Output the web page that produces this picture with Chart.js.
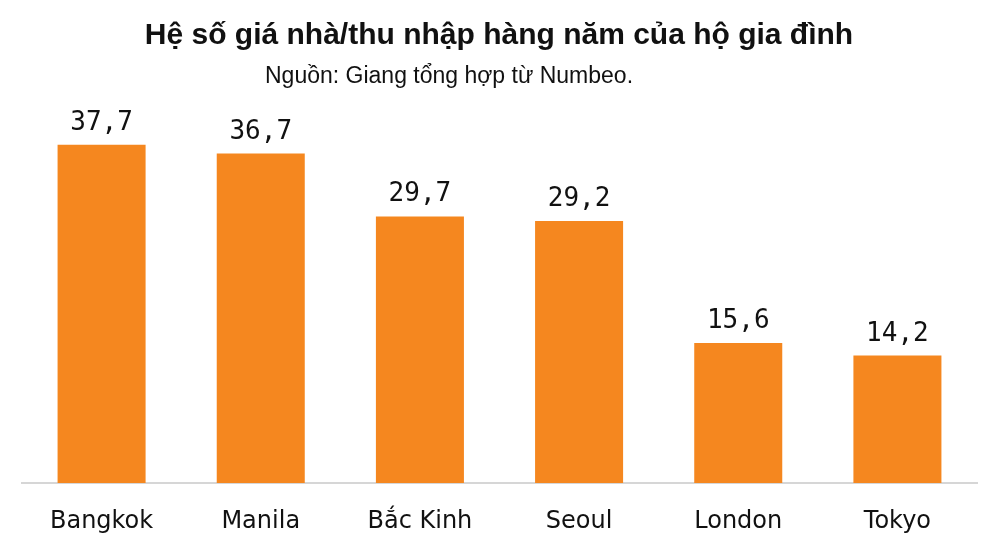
<!DOCTYPE html>
<html>
<head>
<meta charset="utf-8">
<script src="https://cdn.jsdelivr.net/npm/chart.js@4"></script>
<style>
  html, body { margin: 0; padding: 0; background: #fff; }
  #wrap { width: 1000px; height: 551px; }
</style>
</head>
<body>
<div id="wrap"><canvas id="chart"></canvas></div>
<script>
const cities = ['Bangkok', 'Manila', 'Bắc Kinh', 'Seoul', 'London', 'Tokyo'];
const ratios = [37.7, 36.7, 29.7, 29.2, 15.6, 14.2];
const titleText = 'Hệ số giá nhà/thu nhập hàng năm của hộ gia đình';
const sourceText = 'Nguồn: Giang tổng hợp từ Numbeo.';

const BAR = '#F5871F';

// title + source line at the top
const headerPlugin = {
  id: 'header',
  afterDraw(chart) {
    const ctx = chart.ctx;
    ctx.save();
    ctx.fillStyle = '#111';
    ctx.textBaseline = 'middle';
    ctx.textAlign = 'center';
    ctx.font = 'bold 30px "Liberation Sans Narrow", "Liberation Sans", sans-serif';
    ctx.fillText(titleText, 499, 36);
    ctx.textAlign = 'left';
    ctx.font = '23px "Liberation Sans Narrow", "Liberation Sans", sans-serif';
    ctx.fillText(sourceText, 265, 77);
    ctx.restore();
  }
};

// value above each bar
const valueLabels = {
  id: 'valueLabels',
  afterDatasetsDraw(chart) {
    const ctx = chart.ctx;
    const meta = chart.getDatasetMeta(0);
    ctx.save();
    ctx.fillStyle = '#111';
    ctx.font = '26px "DejaVu Sans Mono", monospace';
    ctx.textAlign = 'center';
    ctx.textBaseline = 'alphabetic';
    meta.data.forEach((bar, i) => {
      const txt = ratios[i].toFixed(1).replace('.', ',');
      ctx.fillText(txt, bar.x, bar.y - 15);
    });
    ctx.restore();
  }
};

new Chart(document.getElementById('chart'), {
  type: 'bar',
  data: {
    labels: cities,
    datasets: [{
      data: ratios,
      backgroundColor: BAR,
      borderWidth: 0,
      barPercentage: 0.553,
      categoryPercentage: 1
    }]
  },
  options: {
    responsive: true,
    maintainAspectRatio: false,
    animation: false,
    layout: { padding: { top: 124, left: 22, right: 23, bottom: 0 } },
    plugins: {
      legend: { display: false },
      tooltip: { enabled: false }
    },
    scales: {
      x: {
        grid: { display: false, drawTicks: false },
        border: { display: true, color: '#d6d6d6', width: 2 },
        ticks: {
          color: '#111',
          padding: 24,
          font: { family: '"DejaVu Sans", Verdana, sans-serif', size: 24 }
        },
        afterFit(axis) { axis.height = 68; }
      },
      y: {
        display: false,
        min: 0,
        max: 40
      }
    }
  },
  plugins: [headerPlugin, valueLabels]
});
</script>
</body>
</html>
